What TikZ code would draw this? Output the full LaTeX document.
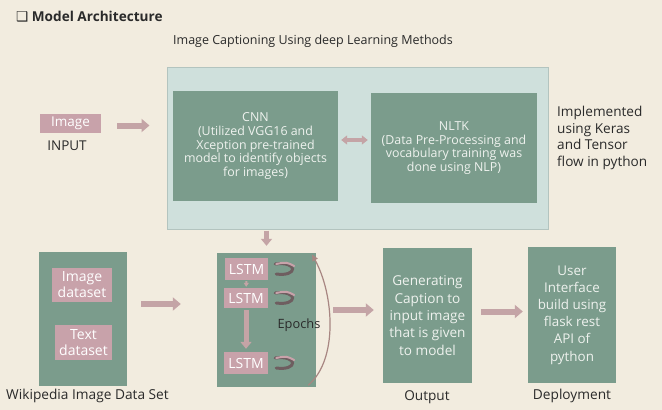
\documentclass[tikz,border=0pt]{standalone}
\usepackage{fontspec}
\setmainfont{Open Sans}
\newfontfamily\symfont{DejaVu Sans}
\usetikzlibrary{arrows.meta,calc}
\definecolor{bgc}{HTML}{F2ECDF}
\definecolor{greenc}{HTML}{7B9C8C}
\definecolor{bigc}{HTML}{CFE0DC}
\definecolor{bigborder}{HTML}{B3C4BF}
\definecolor{pinkc}{HTML}{C8A2AA}
\definecolor{arrc}{HTML}{C4A4A6}
\definecolor{arcc}{HTML}{A88682}
\definecolor{hookc}{HTML}{6E5E60}
\definecolor{boxtext}{HTML}{EEF2EE}
\definecolor{darktext}{HTML}{2A2A2A}
\tikzset{
  gbox/.style={rectangle, fill=greenc, draw=none, inner sep=0pt, align=center, text=boxtext},
  pbox/.style={rectangle, fill=pinkc, draw=none, inner sep=0pt, align=center, text=white},
  lbl/.style={inner sep=0pt, text=darktext, align=left},
  barrow/.style={draw=arrc, line width=6pt, -{Triangle[width=13pt,length=8pt]}},
  thinarrow/.style={draw=arrc, line width=2pt, -{Triangle[width=5pt,length=4pt]}},
  dblarrow/.style={draw=arrc, line width=4pt, {Triangle[width=9pt,length=6pt]}-{Triangle[width=9pt,length=6pt]}},
  hook/.style={draw=hookc, line width=3pt, line cap=round},
  arcarrow/.style={draw=arcc, line width=1.2pt, -{Triangle[width=6pt,length=6pt]}}
}
\begin{document}
\begin{tikzpicture}[x=1pt,y=-1pt]
\fill[bgc] (0,0) rectangle (662,410);
\useasboundingbox (0,0) rectangle (662,410);

% titles
\node[lbl, anchor=west, font=\bfseries\fontsize{13.6}{15}\selectfont] (title) at (16,17) {{\symfont ❑} Model Architecture};
\node[lbl, font=\fontsize{12.5}{14}\selectfont] (subtitle) at (313,41) {Image Captioning Using deep Learning Methods};

% big box
\node[rectangle, fill=bigc, draw=bigborder, line width=1pt, minimum width=381pt, minimum height=162pt] (big) at (357.5,148) {};
\node[gbox, minimum width=165pt, minimum height=110pt, font=\fontsize{12.4}{13.8}\selectfont] (cnn) at (255.5,146)
  {CNN\\(Utilized VGG16 and\\Xception pre-trained\\model to identify objects\\for images)};
\node[gbox, minimum width=166pt, minimum height=110pt, font=\fontsize{12.4}{13.8}\selectfont] (nltk) at (454,148)
  {NLTK\\(Data Pre-Processing and\\vocabulary training was\\done using NLP)};
\draw[dblarrow, shorten <=3pt, shorten >=3pt] ([yshift=6pt]cnn.east) -- ([yshift=6pt]cnn.east -| nltk.west);

\node[lbl, anchor=west, font=\fontsize{13.6}{16.5}\selectfont] (impl) at (557,138)
  {Implemented\\using Keras\\and Tensor\\flow in python};

% input
\node[pbox, minimum width=61pt, minimum height=19pt, font=\fontsize{13.5}{14}\selectfont] (img) at (70.5,123.5) {Image};
\node[lbl, font=\fontsize{13.5}{14}\selectfont] (input) at (67,146) {INPUT};
\draw[barrow, shorten <=16pt, shorten >=17pt] ([yshift=-2pt]img.east) -- ([yshift=-2pt]img.east -| big.west);

% wikipedia
\node[gbox, minimum width=88pt, minimum height=134pt] (wiki) at (83,319) {};
\node[pbox, minimum width=60pt, minimum height=34pt, font=\fontsize{14}{16}\selectfont] (imgds) at (82,285) {Image\\dataset};
\node[pbox, minimum width=57pt, minimum height=35pt, font=\fontsize{14}{16}\selectfont] (txtds) at (83.5,342.5) {Text\\dataset};
\node[lbl, anchor=west, font=\fontsize{13.7}{15}\selectfont] (wikilbl) at (6,396) {Wikipedia Image Data Set};

% LSTM block
\node[gbox, minimum width=99pt, minimum height=134pt] (lstmbox) at (266.5,320) {};
\node[pbox, minimum width=43pt, minimum height=22pt, font=\fontsize{14}{15}\selectfont] (l1) at (246.5,269) {LSTM};
\node[pbox, minimum width=44pt, minimum height=20pt, font=\fontsize{14}{15}\selectfont] (l2) at (246,298) {LSTM};
\node[pbox, minimum width=44pt, minimum height=22pt, font=\fontsize{14}{15}\selectfont] (l3) at (246,363) {LSTM};
\draw[thinarrow, shorten <=1pt, shorten >=1pt] (l1) -- (l2);
\draw[draw=arrc, line width=5pt, -{Triangle[width=11pt,length=7pt]}, shorten <=2pt, shorten >=3pt] (l2) -- (l3);
\foreach \n in {l1,l2,l3}{
  \draw[hook] ($(\n.east)+(7,-5)$) .. controls ($(\n.east)+(30,-8)$) and ($(\n.east)+(30,8)$) .. ($(\n.east)+(8,5)$);
  \draw[draw=pinkc, line width=2pt, line cap=round] ($(\n.east)+(8,-5)$) .. controls ($(\n.east)+(18,-7)$) .. ($(\n.east)+(26,-3)$);
}
\node[lbl, font=\fontsize{12.8}{14}\selectfont] (epochs) at (299,325) {Epochs};
\draw[arcarrow] ($(lstmbox.south east)+(-8,-2)$) .. controls +(30,-25) and +(22,40) .. ($(lstmbox.north east)+(-4,2)$);
\draw[draw=arrc, line width=5pt, -{Triangle[width=11pt,length=7pt]}, shorten <=1pt, shorten >=7pt] (lstmbox.north |- big.south) -- (lstmbox.north);
\draw[barrow, shorten <=14pt, shorten >=36pt] ([yshift=15pt]wiki.east) -- ([yshift=15pt]wiki.east -| lstmbox.west);

% output
\node[gbox, minimum width=89pt, minimum height=135pt, font=\fontsize{13.6}{17.4}\selectfont] (out) at (427.5,315.5)
  {Generating\\Caption to\\input image\\that is given\\to model};
\node[lbl, font=\fontsize{13.6}{15}\selectfont] (outlbl) at (427,397) {Output};
\draw[barrow, shorten <=17pt, shorten >=9pt] ([yshift=10pt]lstmbox.east) -- ([yshift=10pt]lstmbox.east -| out.west);

% deployment
\node[gbox, minimum width=88pt, minimum height=136pt, font=\fontsize{13.4}{17.2}\selectfont] (dep) at (572,315)
  {User\\Interface\\build using\\flask rest\\API of\\python};
\node[lbl, font=\fontsize{13.7}{15}\selectfont] (deplbl) at (572,396) {Deployment};
\draw[barrow, shorten <=9pt, shorten >=5pt] ([yshift=4pt]out.east) -- ([yshift=4pt]out.east -| dep.west);
\end{tikzpicture}
\end{document}
